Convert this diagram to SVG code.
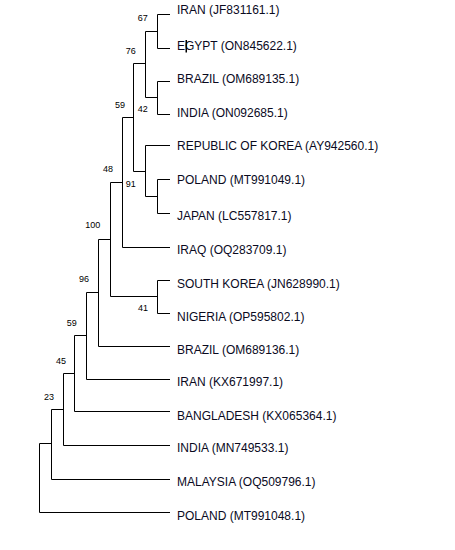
<svg xmlns="http://www.w3.org/2000/svg" width="455" height="550" viewBox="0 0 455 550">
<style>
.bg{fill:#ffffff}
.br{fill:none;stroke:#000;stroke-width:1}
.lf{font-family:"Liberation Sans",Arial,sans-serif;font-size:12px;fill:#0a0a1e}
.bs{font-family:"Liberation Sans",Arial,sans-serif;font-size:9px;fill:#000;text-anchor:middle}
</style>
<rect class="bg" x="0" y="0" width="455" height="550"/>
<g id="connectors">
<path class="br" d="M157.5 14.5H170M157.5 48.5H170M157.5 14.5V48.5"/>
<path class="br" d="M157.5 81.5H170M157.5 114.5H170M157.5 81.5V114.5"/>
<path class="br" d="M145.5 31.5H157.5M145.5 97.5H157.5M145.5 31.5V97.5"/>
<path class="br" d="M157.5 179.5H170M157.5 213.5H170M157.5 179.5V213.5"/>
<path class="br" d="M145.5 145.5H170M145.5 196.5H157.5M145.5 145.5V196.5"/>
<path class="br" d="M133.5 63.5H145.5M133.5 171.5H145.5M133.5 63.5V171.5"/>
<path class="br" d="M122.5 117.5H133.5M122.5 247.5H170M122.5 117.5V247.5"/>
<path class="br" d="M157.5 280.5H170M157.5 313.5H170M157.5 280.5V313.5"/>
<path class="br" d="M110.5 182.5H122.5M110.5 296.5H157.5M110.5 182.5V296.5"/>
<path class="br" d="M98.5 239.5H110.5M98.5 346.5H170M98.5 239.5V346.5"/>
<path class="br" d="M86.5 292.5H98.5M86.5 379.5H170M86.5 292.5V379.5"/>
<path class="br" d="M74.5 335.5H86.5M74.5 411.5H170M74.5 335.5V411.5"/>
<path class="br" d="M63.5 373.5H74.5M63.5 445.5H170M63.5 373.5V445.5"/>
<path class="br" d="M51.5 409.5H63.5M51.5 479.5H170M51.5 409.5V479.5"/>
<path class="br" d="M39.5 443.5H51.5M39.5 512.5H170M39.5 443.5V512.5"/>
</g>
<g id="leaf-iran-jf831161"><text class="lf" x="177" y="13.8">IRAN (JF831161.1)</text></g>
<g id="leaf-egypt-on845622"><text class="lf" x="177" y="49.7">EGYPT (ON845622.1)</text><rect x="185.5" y="40" width="1.5" height="12.5" fill="#000"/></g>
<g id="leaf-brazil-om689135"><text class="lf" x="177" y="83.3">BRAZIL (OM689135.1)</text></g>
<g id="leaf-india-on092685"><text class="lf" x="177" y="116.5">INDIA (ON092685.1)</text></g>
<g id="leaf-korea-ay942560"><text class="lf" x="177" y="150.2">REPUBLIC OF KOREA (AY942560.1)</text></g>
<g id="leaf-poland-mt991049"><text class="lf" x="177" y="183.8">POLAND (MT991049.1)</text></g>
<g id="leaf-japan-lc557817"><text class="lf" x="177" y="220.4">JAPAN (LC557817.1)</text></g>
<g id="leaf-iraq-oq283709"><text class="lf" x="177" y="254">IRAQ (OQ283709.1)</text></g>
<g id="leaf-southkorea-jn628990"><text class="lf" x="177" y="288">SOUTH KOREA (JN628990.1)</text></g>
<g id="leaf-nigeria-op595802"><text class="lf" x="177" y="321">NIGERIA (OP595802.1)</text></g>
<g id="leaf-brazil-om689136"><text class="lf" x="177" y="354.4">BRAZIL (OM689136.1)</text></g>
<g id="leaf-iran-kx671997"><text class="lf" x="177" y="386.3">IRAN (KX671997.1)</text></g>
<g id="leaf-bangladesh-kx065364"><text class="lf" x="177" y="419.5">BANGLADESH (KX065364.1)</text></g>
<g id="leaf-india-mn749533"><text class="lf" x="177" y="452.4">INDIA (MN749533.1)</text></g>
<g id="leaf-malaysia-oq509796"><text class="lf" x="177" y="486">MALAYSIA (OQ509796.1)</text></g>
<g id="leaf-poland-mt991048"><text class="lf" x="177" y="520">POLAND (MT991048.1)</text></g>
<g id="node-a"><text class="bs" x="142.8" y="21">67</text></g>
<g id="node-c"><text class="bs" x="130.8" y="54">76</text></g>
<g id="node-f"><text class="bs" x="120" y="108">59</text></g>
<g id="node-b"><text class="bs" x="142.8" y="112">42</text></g>
<g id="node-g"><text class="bs" x="108" y="172.2">48</text></g>
<g id="node-e"><text class="bs" x="130.8" y="187">91</text></g>
<g id="node-i"><text class="bs" x="92.8" y="227.5">100</text></g>
<g id="node-j"><text class="bs" x="84" y="282">96</text></g>
<g id="node-h"><text class="bs" x="143" y="311">41</text></g>
<g id="node-k"><text class="bs" x="71.7" y="326">59</text></g>
<g id="node-l"><text class="bs" x="61" y="364.2">45</text></g>
<g id="node-m"><text class="bs" x="49" y="400.2">23</text></g>
</svg>
